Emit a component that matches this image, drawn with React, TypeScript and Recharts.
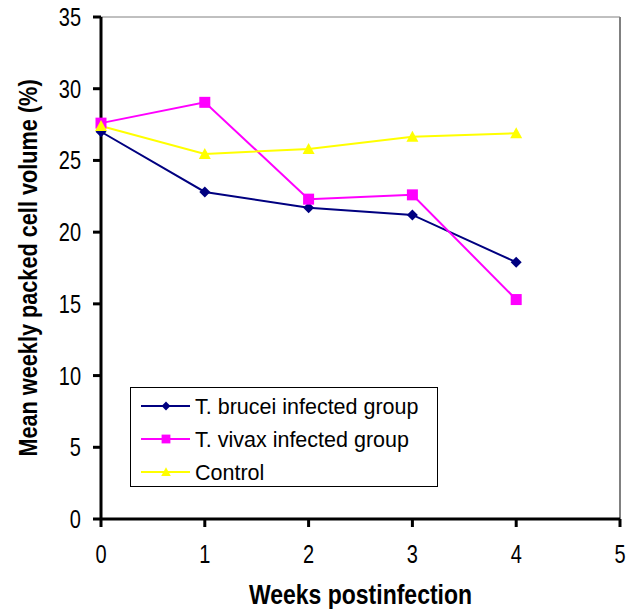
import { Label, Line, LineChart, ReferenceLine, XAxis, YAxis } from "recharts";

const weeks = [0, 1, 2, 3, 4];
const brucei = [27.0, 22.8, 21.7, 21.2, 17.9];
const vivax = [27.6, 29.05, 22.3, 22.6, 15.3];
const control = [27.4, 25.45, 25.8, 26.65, 26.9];

const xTicks = [0, 1, 2, 3, 4, 5];
const yTicks = [0, 5, 10, 15, 20, 25, 30, 35];

const seriesKeys = ["brucei", "vivax", "control"];
const seriesNames = ["T. brucei infected group", "T. vivax infected group", "Control"];
const seriesColors = ["#000080", "#FF00FF", "#FFFF00"];
const seriesMarkers = ["diamond", "square", "triangle"];

const data = weeks.map((week, i) => ({
  week,
  brucei: brucei[i],
  vivax: vivax[i],
  control: control[i],
}));

const font = "'Liberation Sans', Arial, sans-serif";

function markerShape(kind: string, color: string, cx: number, cy: number, s = 1) {
  if (kind === "diamond") {
    const r = 5.5 * s;
    return (
      <polygon
        points={`${cx},${cy - r} ${cx + r},${cy} ${cx},${cy + r} ${cx - r},${cy}`}
        fill={color}
      />
    );
  }
  if (kind === "square") {
    const h = 5.5 * s;
    return <rect x={cx - h} y={cy - h} width={2 * h} height={2 * h} fill={color} />;
  }
  const h = 6 * s;
  return (
    <polygon
      points={`${cx},${cy - h} ${cx + h},${cy + 5 * s} ${cx - h},${cy + 5 * s}`}
      fill={color}
    />
  );
}

const makeDot = (kind: string, color: string) => (props: any) => {
  const { cx, cy, index } = props;
  if (cx == null || cy == null) return <g key={index} />;
  return <g key={index}>{markerShape(kind, color, cx, cy)}</g>;
};

// the original font is a tall bitmap face, so tick text is stretched vertically
const XTick = ({ x, y, payload }: any) => (
  <g transform={`translate(${x},${y + 36})`}>
    <text transform="scale(1,1.25)" textAnchor="middle" fontFamily={font} fontSize={20} fill="#000">
      {payload.value}
    </text>
  </g>
);

const YTick = ({ x, y, payload }: any) => (
  <g transform={`translate(${x},${y + 9})`}>
    <text transform="scale(1,1.25)" textAnchor="end" fontFamily={font} fontSize={20} fill="#000">
      {payload.value}
    </text>
  </g>
);

const LegendBox = () => (
  <div
    style={{
      position: "absolute",
      left: 130,
      top: 387,
      width: 308,
      height: 100,
      boxSizing: "border-box",
      border: "1.5px solid #000",
      background: "#fff",
      padding: "1px 0 0 10px",
      fontFamily: font,
      fontSize: 21.5,
      color: "#000",
    }}
  >
    {seriesNames.map((name, i) => (
      <div key={name} style={{ display: "flex", alignItems: "center", height: 33 }}>
        <svg width={54} height={14} style={{ display: "block", flex: "none" }}>
          <line x1={0} y1={7} x2={49} y2={7} stroke={seriesColors[i]} strokeWidth={2} />
          {markerShape(seriesMarkers[i], seriesColors[i], 25, 7, 0.8)}
        </svg>
        <span style={{ whiteSpace: "nowrap", position: "relative", top: 2 }}>{name}</span>
      </div>
    ))}
  </div>
);

export default function App() {
  return (
    <div style={{ position: "absolute", left: 0, top: 0, width: 639, height: 609, background: "#fff" }}>
      <LineChart width={639} height={609} data={data} margin={{ top: 17, right: 19, bottom: 0, left: 0 }}>
        <XAxis
          dataKey="week"
          type="number"
          domain={[0, 5]}
          ticks={xTicks}
          height={90}
          axisLine={{ stroke: "#000", strokeWidth: 3 }}
          tickLine={{ stroke: "#000", strokeWidth: 3 }}
          tickSize={8}
          tickMargin={0}
          tick={<XTick />}
        >
          <Label
            content={({ viewBox }: any) => (
              <g transform={`translate(${viewBox.x + viewBox.width / 2},${viewBox.y + 85})`}>
                <text
                  transform="scale(1,1.2)"
                  textAnchor="middle"
                  fontFamily={font}
                  fontSize={23}
                  fontWeight="bold"
                  fill="#000"
                >
                  Weeks postinfection
                </text>
              </g>
            )}
          />
        </XAxis>
        <YAxis
          type="number"
          domain={[0, 35]}
          ticks={yTicks}
          width={101}
          axisLine={{ stroke: "#000", strokeWidth: 3 }}
          tickLine={{ stroke: "#000", strokeWidth: 3 }}
          tickSize={8}
          tickMargin={12}
          tick={<YTick />}
        >
          <Label
            content={({ viewBox }: any) => {
              const cy = viewBox.y + viewBox.height / 2;
              return (
                <g transform={`translate(37,${cy}) rotate(-90)`}>
                  <text
                    transform="scale(1,1.22)"
                    textAnchor="middle"
                    fontFamily={font}
                    fontSize={21.7}
                    fontWeight="bold"
                    fill="#000"
                  >
                    Mean weekly packed cell volume (%)
                  </text>
                </g>
              );
            }}
          />
        </YAxis>
        <ReferenceLine y={35} stroke="#808080" strokeWidth={1} />
        <ReferenceLine x={5} stroke="#808080" strokeWidth={2} />
        {seriesKeys.map((key, i) => (
          <Line
            key={key}
            type="linear"
            dataKey={key}
            name={seriesNames[i]}
            stroke={seriesColors[i]}
            strokeWidth={2}
            dot={makeDot(seriesMarkers[i], seriesColors[i])}
            activeDot={false}
            isAnimationActive={false}
          />
        ))}
      </LineChart>
      <LegendBox />
    </div>
  );
}
